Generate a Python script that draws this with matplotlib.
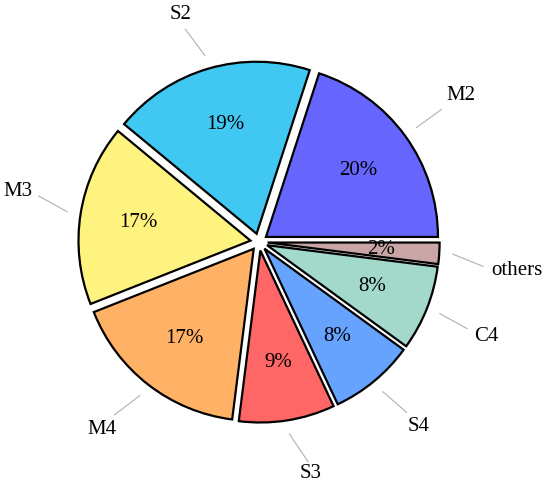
import matplotlib
matplotlib.use('Agg')
import matplotlib.pyplot as plt
import numpy as np

labels = ['M2', 'S2', 'M3', 'M4', 'S3', 'S4', 'C4', 'others']
shares = [20, 19, 17, 17, 9, 8, 8, 2]
colors = ['#6666FF', '#40C8F2', '#FFF380', '#FFB266', '#FF6666', '#66A3FF', '#A3D9CB', '#C9A5A5']

plt.rcParams['font.family'] = ['Liberation Serif', 'DejaVu Serif']

W, H = 550, 486
R = 172.0
cx, cy = 259, 242

fig = plt.figure(figsize=(W / 100, H / 100), dpi=100)
ax = fig.add_axes([0, 0, 1, 1])

wedges, _, autotexts = ax.pie(shares, colors=colors, startangle=0, counterclock=True,
                              explode=[0.05] * len(shares), autopct='%d%%',
                              pctdistance=0.66, radius=1,
                              wedgeprops=dict(edgecolor='black', linewidth=1.6),
                              textprops=dict(fontsize=15))

# outer labels: distance (in radii) and small angle nudges (deg) to spread them
label_dist = [1.45, 1.40, 1.43, 1.42, 1.38, 1.42, 1.43, 1.51]
label_nudge = [0, 2.9, -2.8, -2.1, 3.6, 1.3, -1.0, -2.6]
for w, lab, d, nd in zip(wedges, labels, label_dist, label_nudge):
    mid = np.deg2rad((w.theta1 + w.theta2) / 2)
    th = mid + np.deg2rad(nd)
    ax.plot([1.13 * np.cos(mid), 1.31 * np.cos(th)],
            [1.13 * np.sin(mid), 1.31 * np.sin(th)], color='#b0b0b0', lw=0.8)
    ax.text(d * np.cos(th), d * np.sin(th), lab, ha='center', va='center', fontsize=15)

# pie() sets its own limits, so set ours afterwards
ax.set_xlim(-cx / R, (W - cx) / R)
ax.set_ylim(-(H - cy) / R, cy / R)
ax.set_aspect('equal')
ax.axis('off')

fig.savefig('out.png', dpi=100)
